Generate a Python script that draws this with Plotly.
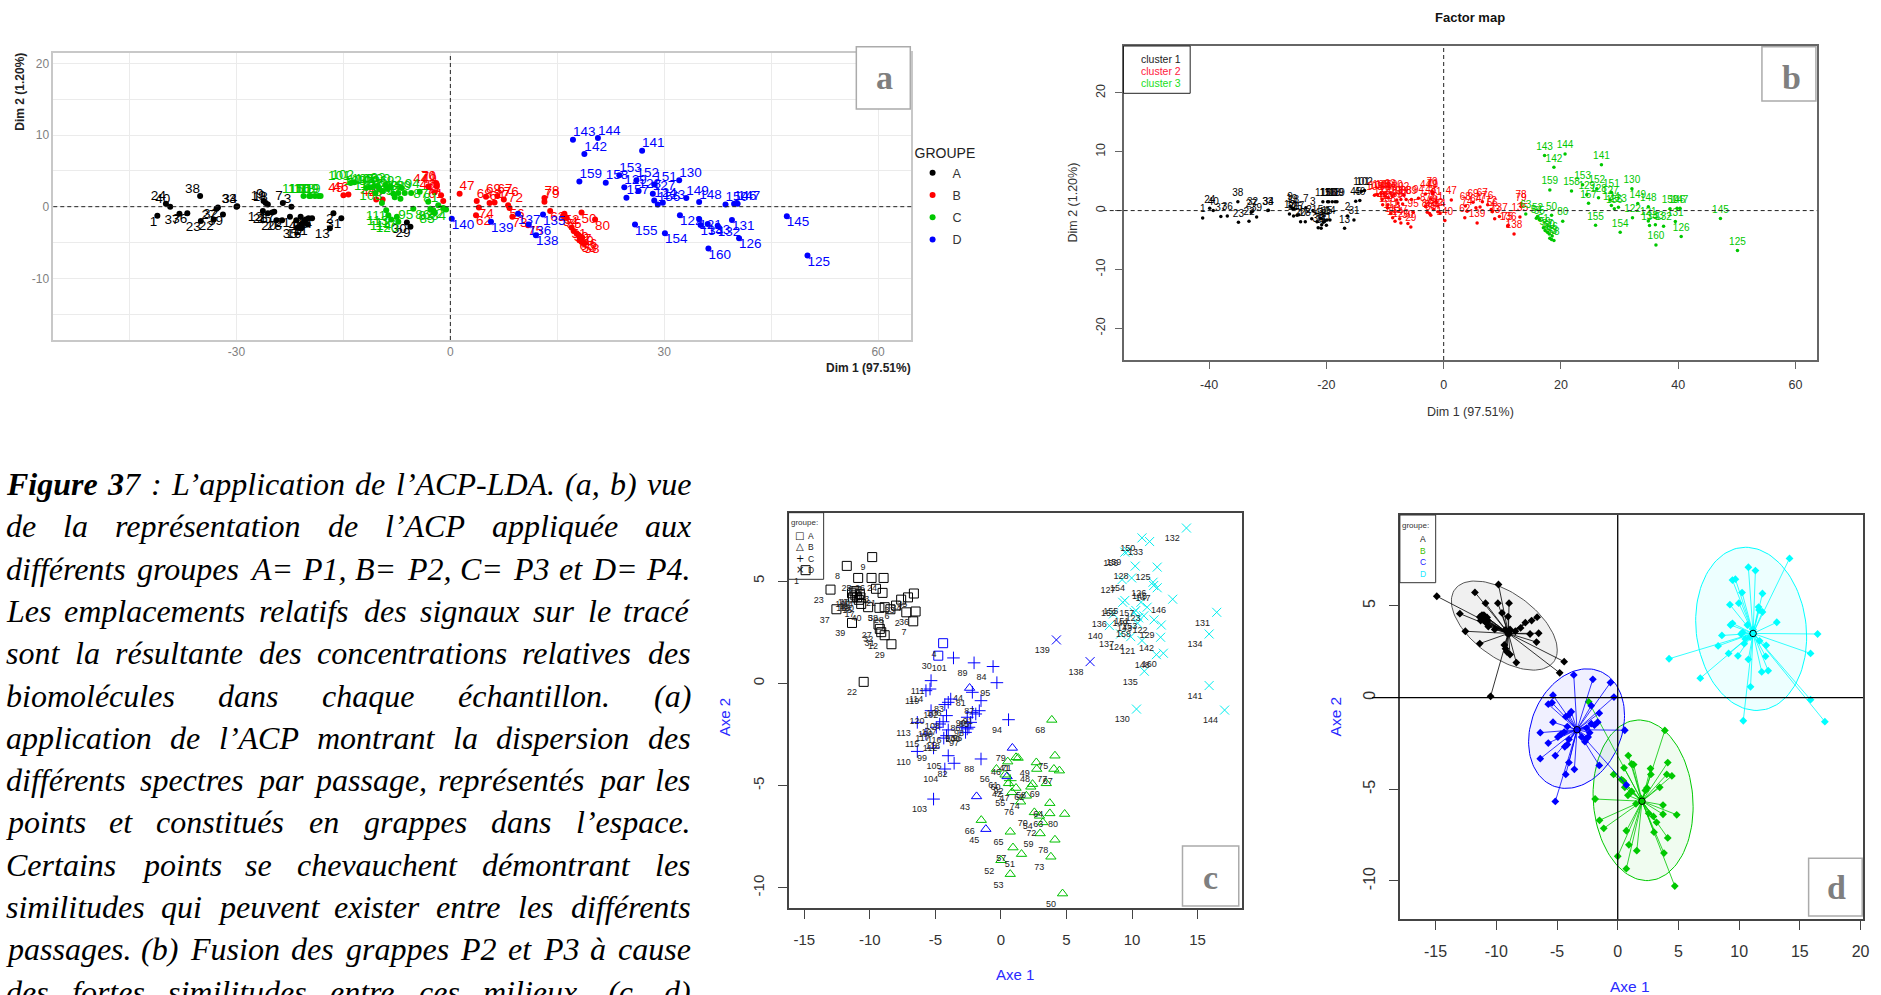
import numpy as np
import plotly.graph_objects as go

W, H = 1881, 995
X_FIT = 1.0033  # horizontal fit of the page to the reference

# ---------- PCA coordinates (panels a, b) ----------
ids_A = list(range(1, 41))
ids_B = list(range(41, 81))
ids_C = list(range(81, 121))
ids_D = list(range(121, 161))

pca_x_A = [-41.1,-16.4,-22.3,-21.6,-21.0,-20.8,-23.5,-20.5,-26.2,-20.3,-20.0,-26.3,-16.9,-19.4,-19.9,-20.9,-24.7,-25.6,-25.9,-24.4,
           -22.5,-33.2,-35.0,-39.9,-25.0,-25.6,-32.8,-23.6,-5.6,-6.1,-15.3,-32.6,-30.0,-29.9,-21.4,-36.9,-38.0,-35.1,-31.9,-39.3]
pca_y_A = [-1.25,-0.9,0.0,-1.9,-1.4,-2.4,0.5,-2.0,0.8,-1.8,-2.5,-0.6,-3.0,-1.6,-1.6,-3.0,-0.7,0.3,0.5,-1.9,
           -1.4,-1.8,-2.0,0.4,-0.8,-0.9,-0.3,-1.9,-2.8,-2.2,-1.6,-0.1,0.0,0.05,-2.9,-0.9,-1.0,1.5,-1.1,0.0]
pca_x_B = [-1.3,-10.4,-9.5,-3.1,-15.0,-14.3,1.3,-2.2,-1.9,18.4,17.0,16.0,18.4,15.8,16.3,8.3,17.7,18.8,17.3,18.0,
           -1.0,3.6,14.0,5.5,18.1,18.5,6.6,3.7,5.0,-2.0,-1.9,8.1,8.7,4.0,10.9,7.5,6.2,13.2,13.2,20.3]
pca_y_B = [1.6,1.0,1.0,2.8,1.6,1.7,1.8,2.0,2.8,-0.8,-2.9,-1.0,-4.9,-1.3,-1.5,-0.2,-3.7,-5.1,-3.4,-4.0,
           0.8,-1.2,-0.6,0.5,-4.7,-4.3,1.5,0.8,1.4,3.3,3.1,0.2,-1.4,-0.1,-2.6,1.0,0.6,1.2,0.7,-1.8]
pca_x_C = [-1.7,-1.0,-2.4,-0.6,-2.2,-2.8,-3.1,-6.4,-5.5,-7.3,-8.0,-6.8,-9.1,-4.3,-5.2,-8.8,-7.0,-7.8,-10.0,-8.4,
           -14.0,-13.5,-11.8,-11.3,-10.7,-10.2,-9.5,-9.6,-18.5,-19.8,-9.0,-10.5,-8.7,-8.3,-20.6,-19.6,-7.5,-19.0,-18.2,-7.3]
pca_y_C = [0.2,-0.2,-0.5,-0.4,-0.8,-0.3,0.7,1.9,1.9,1.9,1.8,2.6,3.0,2.1,-0.3,2.5,1.1,1.3,2.5,2.8,
           3.3,3.4,2.6,2.7,2.9,2.9,2.2,0.5,1.5,1.5,-0.5,1.9,-1.2,-1.8,1.5,1.5,-1.4,1.5,1.5,-2.1]
pca_x_D = [34.9,32.2,29.8,28.6,50.1,40.5,28.4,26.4,24.4,32.1,39.5,37.5,36.1,35.1,13.0,11.0,9.5,12.0,5.7,0.2,
           26.9,18.8,17.2,20.7,47.2,39.8,40.3,34.9,33.1,38.6,28.6,26.1,23.7,30.1,25.9,29.1,24.7,21.8,18.1,36.2]
pca_y_D = [-1.75,-1.2,0.55,0.85,-6.8,-4.4,1.8,2.2,2.7,3.7,-1.85,-2.65,-2.4,-2.55,-1.1,-2.5,-1.0,-4.0,-2.1,-1.7,
           7.8,7.35,9.35,9.6,-1.35,0.4,0.4,0.65,1.2,0.3,3.1,3.7,4.4,-3.7,-2.5,0.3,1.25,3.35,3.5,-5.85]

# k-means membership in panel b (the rest of each group follows its neighbours)
cluster1_ids = ids_A[:28] + ids_A[30:] + [45, 46, 101, 102, 109, 110, 115, 116, 118, 119]
cluster3_ids = [50, 51, 52, 53, 54, 55, 57, 58, 59, 60, 63, 65, 66, 80] + ids_D[:14] + ids_D[20:]

# ---------- LDA coordinates (panels c, d) ----------
lda_x_A = [-14.9,-7.22,-9.53,-4.41,-9.27,-8.0,-6.69,-11.76,-9.82,-11.18,-11.1,-8.87,-10.97,-10.76,-10.84,-11.29,-10.66,-11.02,-11.36,-10.71,
           -9.03,-10.47,-13.0,-8.95,-10.89,-9.87,-9.34,-8.43,-8.35,-4.78,-9.13,-9.24,-7.61,-7.09,-6.64,-6.51,-12.55,-8.87,-11.36,-10.13]
lda_y_A = [5.53,3.47,4.62,1.96,3.69,3.8,3.03,5.74,6.17,4.5,4.3,2.35,4.2,4.37,4.08,4.2,3.88,4.5,4.4,4.2,
           4.42,0.07,4.58,5.15,5.15,5.15,2.87,3.62,1.91,1.35,2.5,2.66,4.09,4.2,4.39,3.51,3.62,3.72,2.95,3.72]
lda_x_B = [1.15,0.58,-1.86,-2.39,-1.15,0.52,1.15,2.73,2.7,4.7,1.57,0.0,0.71,2.94,0.84,-0.34,0.92,2.41,2.99,0.47,
           0.31,2.28,3.73,3.73,0.71,-1.5,4.46,3.88,3.46,2.55,1.31,3.2,3.81,1.94,4.12,1.5,4.04,4.12,0.87,4.86]
lda_y_B = [-3.62,-4.89,-5.53,-0.23,-7.13,-3.83,-5.12,-4.19,-3.87,-10.28,-8.35,-8.65,-9.33,-6.48,-5.33,-4.19,-8.03,-4.93,-7.34,-4.55,
           -4.47,-5.06,-6.36,-5.86,-7.26,-6.69,-4.27,-1.79,-4.89,-6.31,-3.65,-6.8,-8.48,-5.5,-3.54,-5.79,-4.19,-7.65,-3.16,-6.39]
lda_x_C = [-2.18,-3.57,-3.83,-0.6,-1.92,-2.57,-1.52,-1.52,-2.05,-2.18,-1.65,0.71,-2.97,0.58,-0.31,-2.44,-2.7,-2.31,-5.14,-2.57,
           -3.62,-4.28,-5.14,-4.28,-4.02,-4.02,-4.41,-4.15,-4.67,-6.38,-5.33,-4.36,-6.38,-5.41,-5.72,-4.02,-4.93,-4.15,-5.72,-5.33]
lda_y_C = [-0.44,-3.91,-0.77,0.82,-1.5,-1.66,-0.85,-3.7,1.0,-1.42,-1.34,-4.76,-2.15,-1.78,0.03,-2.15,-2.4,-1.91,-3.16,-2.23,
           1.24,-1.04,-5.66,-4.19,-3.54,-0.93,-1.88,-1.58,-1.99,-3.33,0.13,-2.68,-1.91,-0.28,-2.48,-2.28,-2.15,-2.56,-0.36,-1.34]
lda_x_D = [10.76,11.68,11.15,9.9,11.92,11.6,9.24,10.24,12.23,10.34,16.46,14.15,11.34,15.88,10.94,8.58,9.13,6.8,4.23,8.27,
           15.88,12.18,10.5,17.06,11.65,13.1,11.92,11.86,10.16,10.76,10.29,9.29,10.9,9.97,9.45,9.45,10.68,10.42,9.69,12.39]
lda_y_D = [2.09,3.1,3.72,2.28,5.68,4.94,5.07,5.73,2.85,-1.26,3.47,7.59,6.93,2.41,0.59,3.39,2.41,1.06,2.12,2.82,
           -0.11,2.25,3.2,-1.31,4.78,4.11,4.67,1.4,3.47,7.11,3.56,3.96,3.3,5.15,4.05,6.41,3.96,2.94,6.46,1.47]

# points whose colour in panel c differs from the colour of their group
c_blue_ids = [4, 30, 44, 43, 45, 60, 79, 138, 139]
c_green_ids = [92]

centroid_x = [-9.0, 2.0, -3.35, 11.15]
centroid_y = [3.5, -5.65, -1.75, 3.5]
# ellipse: centre x, centre y, half width, half height, correlation
ell_cx = [-9.34, 2.09, -3.39, 10.99]
ell_cy = [3.93, -5.6, -1.69, 3.75]
ell_ax = [4.36, 4.12, 3.95, 4.57]
ell_ay = [2.43, 4.38, 3.26, 4.45]
ell_rho = [-0.55, -0.08, 0.22, -0.1]

group_names = ["A", "B", "C", "D"]
cluster_names = ["cluster 1", "cluster 2", "cluster 3"]

caption_lines = [
    "Figure 37 : L’application de l’ACP-LDA. (a, b) vue",
    "de la représentation de l’ACP appliquée aux",
    "différents groupes A= P1, B= P2, C= P3 et D= P4.",
    "Les emplacements relatifs des signaux sur le tracé",
    "sont la résultante des concentrations relatives des",
    "biomolécules dans chaque échantillon. (a)",
    "application de l’ACP montrant la dispersion des",
    "différents spectres par passage, représentés par les",
    "points et constitués en grappes dans l’espace.",
    "Certains points se chevauchent démontrant les",
    "similitudes qui peuvent exister entre les différents",
    "passages. (b) Fusion des grappes P2 et P3 à cause",
    "des fortes similitudes entre ces milieux. (c, d)",
]

# ---------- helpers ----------
ids_all = [ids_A, ids_B, ids_C, ids_D]
pca_x = [pca_x_A, pca_x_B, pca_x_C, pca_x_D]
pca_y = [pca_y_A, pca_y_B, pca_y_C, pca_y_D]
lda_x = [lda_x_A, lda_x_B, lda_x_C, lda_x_D]
lda_y = [lda_y_A, lda_y_B, lda_y_C, lda_y_D]

SANS = "Liberation Sans"
SERIF = "Liberation Serif"
fig = go.Figure()
ann = []
shp = []

def px(x): return min(1.0, x * X_FIT / W)
def py(y): return 1 - y / H

def text(x, y, s, size=12, color="#222", family=SANS, xanchor="center", yanchor="middle", angle=0):
    ann.append(dict(x=px(x), y=py(y), xref="paper", yref="paper", text=s, showarrow=False,
                    font=dict(size=size, color=color, family=family),
                    xanchor=xanchor, yanchor=yanchor, textangle=angle,
                    borderpad=0, borderwidth=0))

def box(l, t, r, b, line="#000", width=1, fill=None):
    shp.append(dict(type="rect", xref="paper", yref="paper", x0=px(l), x1=px(r), y0=py(b), y1=py(t),
                    line=dict(color=line, width=width), fillcolor=fill if fill else "rgba(0,0,0,0)", layer="above"))

def domain(l, t, r, b):
    return dict(x=[px(l), px(r)], y=[1 - b / H, 1 - t / H])

def letter_box(l, t, r, b, ch, cx, cy):
    box(l, t, r, b, line="#ababab", width=1.5, fill="#ffffff")
    text(cx, cy, "<b>" + ch + "</b>", size=34, color="#7f7f7f", family=SERIF)

# ---------- panel a ----------
col_a = ["#000000", "#ff0000", "#00c800", "#0000ff"]
for k in range(4):
    pos = [("top left" if x < 0 else "top right") if y >= 0 else ("bottom left" if x < 0 else "bottom right")
           for x, y in zip(pca_x[k], pca_y[k])]
    fig.add_trace(go.Scatter(x=pca_x[k], y=pca_y[k], mode="markers", name=group_names[k], legendgroup=group_names[k],
                             marker=dict(color=col_a[k], size=6), xaxis="x", yaxis="y", showlegend=True))
    fig.add_trace(go.Scatter(x=pca_x[k], y=pca_y[k], mode="text", text=[str(i) for i in ids_all[k]],
                             textposition=pos, textfont=dict(size=13.5, color=col_a[k], family=SANS),
                             xaxis="x", yaxis="y", showlegend=False))

# ---------- panel b ----------
col_b = ["#000000", "#ff0000", "#00c800"]
all_ids = sum(ids_all, [])
all_px = sum(pca_x, [])
all_py = sum(pca_y, [])
for c in range(3):
    idx = []
    for i, n in enumerate(all_ids):
        cl = 0 if n in cluster1_ids else (2 if n in cluster3_ids else 1)
        if cl == c:
            idx.append(i)
    fig.add_trace(go.Scatter(x=[all_px[i] for i in idx], y=[all_py[i] for i in idx], mode="markers+text",
                             text=[str(all_ids[i]) for i in idx], textposition="top center",
                             textfont=dict(size=10, color=col_b[c], family=SANS),
                             marker=dict(color=col_b[c], size=3.5), xaxis="x2", yaxis="y2",
                             name=cluster_names[c], showlegend=False))

# ---------- panel c ----------
sym_c = ["square-open", "triangle-up-open", "cross-thin", "x-thin"]
col_c = ["#000000", "#00c000", "#0000ff", "#00eeee"]
for k in range(4):
    cols = []
    for n in ids_all[k]:
        if n in c_blue_ids:
            cols.append("#0000ff")
        elif n in c_green_ids:
            cols.append("#00c000")
        else:
            cols.append(col_c[k])
    fig.add_trace(go.Scatter(x=lda_x[k], y=lda_y[k], mode="markers+text",
                             text=[str(i) for i in ids_all[k]], textposition="bottom left",
                             textfont=dict(size=9, color="#222222", family=SANS),
                             marker=dict(symbol=sym_c[k], size=9, color=cols, line=dict(color=cols, width=1)),
                             xaxis="x3", yaxis="y3", name=group_names[k], showlegend=False))

# ---------- panel d ----------
col_d = ["#000000", "#00c800", "#0000ff", "#00ffff"]
fill_d = ["rgba(0,0,0,0.06)", "rgba(0,200,0,0.06)", "rgba(0,0,255,0.06)", "rgba(0,255,255,0.07)"]
ell_line = ["#555555", "#00c800", "#0000ff", "#00ffff"]
t = np.linspace(0, 2 * np.pi, 121)
for k in range(4):
    ex = ell_cx[k] + ell_ax[k] * np.cos(t)
    ey = ell_cy[k] + ell_ay[k] * (ell_rho[k] * np.cos(t) + np.sqrt(1 - ell_rho[k] ** 2) * np.sin(t))
    fig.add_trace(go.Scatter(x=ex, y=ey, mode="lines", fill="toself", fillcolor=fill_d[k],
                             line=dict(color=ell_line[k], width=1), xaxis="x4", yaxis="y4", showlegend=False))
fig.add_shape(type="line", xref="x4 domain", yref="y4", x0=-0.06, x1=1, y0=0, y1=0, line=dict(color="#000", width=1.3))
fig.add_shape(type="line", xref="x4", yref="y4 domain", x0=0, x1=0, y0=0, y1=1, line=dict(color="#000", width=1.3))
for k in range(4):
    sx, sy = [], []
    for x, y in zip(lda_x[k], lda_y[k]):
        sx += [centroid_x[k], x, None]
        sy += [centroid_y[k], y, None]
    fig.add_trace(go.Scatter(x=sx, y=sy, mode="lines", line=dict(color=col_d[k], width=0.8),
                             xaxis="x4", yaxis="y4", showlegend=False))
    fig.add_trace(go.Scatter(x=lda_x[k], y=lda_y[k], mode="markers",
                             marker=dict(symbol="diamond", size=6, color=col_d[k]),
                             xaxis="x4", yaxis="y4", showlegend=False))
    fig.add_trace(go.Scatter(x=[centroid_x[k]], y=[centroid_y[k]], mode="markers",
                             marker=dict(symbol="circle", size=6.5, color=col_d[k], line=dict(color="#000", width=1)),
                             xaxis="x4", yaxis="y4", showlegend=False))

# ---------- dashed zero lines a, b ----------
for xa, ya, ext in [("x", "y", 0), ("x2", "y2", -0.03)]:
    fig.add_shape(type="line", xref=xa + " domain", yref=ya, x0=ext, x1=1, y0=0, y1=0, line=dict(color="#222", width=1, dash="4px,3px"))
    fig.add_shape(type="line", xref=xa, yref=ya + " domain", x0=0, x1=0, y0=0, y1=1, line=dict(color="#222", width=1, dash="4px,3px"))

# ---------- axes ----------
dom_a = domain(53.3, 53.3, 911.7, 340)
dom_b = domain(1124, 46, 1818, 360)
dom_c = domain(788.9, 512.7, 1242.7, 908.3)
dom_d = domain(1400.5, 515, 1863.8, 919.3)

grid_a = dict(showgrid=True, gridcolor="#ebebeb", gridwidth=1.4, zeroline=False, showline=True, mirror=True,
              linecolor="#c8c8c8", linewidth=1.5, ticks="", tickfont=dict(size=12, color="#7f7f7f", family=SANS))
r_axis = lambda size, ticklen, standoff, col="#444444": dict(
    showgrid=False, zeroline=False, showline=True, mirror=True, linecolor=col, linewidth=1.5,
    ticks="outside", ticklen=ticklen, tickcolor=col, tickwidth=1,
    ticklabelstandoff=standoff, tickfont=dict(size=size, color="#333333", family=SANS))

def ticks(vals):
    return dict(tickvals=vals, ticktext=[str(v) for v in vals])

layout_axes = dict(
    xaxis=dict(domain=dom_a["x"], range=[-55.7, 64.66], anchor="y",
               tickvals=[-45, -30, -15, 0, 15, 30, 45, 60], ticktext=["", "-30", "", "0", "", "30", "", "60"], **grid_a),
    yaxis=dict(domain=dom_a["y"], range=[-18.6, 21.4], anchor="x",
               tickvals=[-15, -10, -5, 0, 5, 10, 15, 20], ticktext=["", "-10", "", "0", "", "10", "", "20"], **grid_a),
    xaxis2=dict(domain=dom_b["x"], range=[-54.6, 63.7], anchor="y2", **ticks([-40, -20, 0, 20, 40, 60]), **r_axis(12.5, 7, 5, "#666666")),
    yaxis2=dict(domain=dom_b["y"], range=[-25.4, 27.98], anchor="x2", **ticks([-20, -10, 0, 10, 20]), tickangle=-90, **r_axis(12.5, 7, 5, "#666666")),
    xaxis3=dict(domain=dom_c["x"], range=[-16.2, 18.4], anchor="y3", **ticks([-15, -10, -5, 0, 5, 10, 15]), **r_axis(15, 9, 8)),
    yaxis3=dict(domain=dom_c["y"], range=[-11.0, 8.34], anchor="x3", **ticks([-10, -5, 0, 5]), tickangle=-90, **r_axis(15, 9, 8)),
    xaxis4=dict(domain=dom_d["x"], range=[-17.94, 20.2], anchor="y4", **ticks([-15, -10, -5, 0, 5, 10, 15, 20]), **r_axis(16, 9, 8)),
    yaxis4=dict(domain=dom_d["y"], range=[-12.09, 9.96], anchor="x4", **ticks([-10, -5, 0, 5]), tickangle=-90, **r_axis(16, 9, 8)),
)

# ---------- panel titles / legends ----------
text(911.7, 367.7, "<b>Dim 1 (97.51%)</b>", size=12, color="#222", xanchor="right")
text(20, 52.7, "<b>Dim 2 (1.20%)</b>", size=12, color="#222", yanchor="top", angle=-90)
text(1471, 17, "<b>Factor map</b>", size=13, color="#111")
text(1471, 412, "Dim 1 (97.51%)", size=12.5, color="#333")
text(1073, 203, "Dim 2 (1.20%)", size=12.5, color="#333", angle=-90)
box(1124, 46, 1190.7, 93.3, line="#222", width=1)
for lab, c, yy in zip(cluster_names, ["#222222", "#ff2040", "#20e020"], [59, 70.7, 82.7]):
    text(1141.7, yy, lab, size=10.5, color=c, xanchor="left")

text(1015, 974, "Axe 1", size=15, color="#2a2aff")
text(724.6, 717, "Axe 2", size=15, color="#2a2aff", angle=-90)
text(1631, 986, "Axe 1", size=15.5, color="#2a2aff")
text(1336, 716, "Axe 2", size=15.5, color="#2a2aff", angle=-90)

box(788.9, 512.7, 824, 579.3, line="#333", width=1)
text(805, 522.3, "groupe:", size=8, color="#333")
for key, lab, yy in zip(["□", "△", "+", "×"], group_names, [535, 546, 558, 569]):
    text(800.2, yy, key, size=10, color="#111", family="DejaVu Sans")
    text(811.6, yy + 1, lab, size=8.5, color="#222")

box(1400.5, 515, 1436.3, 582.7, line="#333", width=1)
text(1416.6, 525, "groupe:", size=8, color="#333")
for lab, c, yy in zip(group_names, ["#111111", "#40c000", "#2020ff", "#20e8ff"], [539, 551, 561.7, 573.7]):
    text(1423.8, yy, lab, size=8.5, color=c)

letter_box(856.7, 46.7, 910.7, 109, "a", 885, 77)
letter_box(1762.7, 46.7, 1816.7, 101, "b", 1792, 77)
letter_box(1183, 846, 1239.3, 906, "c", 1210.7, 877)
letter_box(1809.4, 858.3, 1863, 916, "d", 1837.7, 887)

# ---------- justified caption ----------
AFM = dict(zip("abcdefghijklmnopqrstuvwxyz",
               [500,500,444,500,444,278,500,500,278,278,444,278,722,500,500,500,500,389,389,278,500,444,667,444,444,389]))
AFM.update(dict(A=611,B=611,C=667,D=722,F=611,L=556,P=611))
AFM.update({"é":444,"à":500,"’":333,",":250,".":250,":":333,"(":333,")":333,"-":333,"=":675})
for d_ in "0123456789":
    AFM[d_] = 500
FS = 32
LEFT, RIGHT = 6, 691
for n, line in enumerate(caption_lines):
    yy = 484 + n * 42.3
    words = line.split(" ")
    ws = [sum(AFM.get(ch, 500) for ch in w) * FS / 1000 for w in words]
    if n == 0:
        ws[0] *= 1.05; ws[1] *= 1.03
    gap = (RIGHT - LEFT - sum(ws)) / (len(words) - 1)
    xx = LEFT
    for i, (w, wd) in enumerate(zip(words, ws)):
        s = w
        if n == 0 and i == 0:
            s = "<b><i>Figure</i></b>"
        elif n == 0 and i == 1:
            s = "<b><i>3</i></b><i>7</i>"
        else:
            s = "<i>" + w + "</i>"
        if i == len(words) - 1:
            text(RIGHT, yy, s, size=FS, color="#000", family=SERIF, xanchor="right")
        else:
            text(xx, yy, s, size=FS, color="#000", family=SERIF, xanchor="left")
        xx += wd + gap

fig.update_layout(
    autosize=True, margin=dict(l=0, r=0, t=0, b=0), paper_bgcolor="#ffffff", plot_bgcolor="#ffffff",
    annotations=ann,
    legend=dict(title=dict(text="GROUPE", font=dict(size=14, color="#222", family=SANS)),
                x=916 / W, y=1 - 140 / H, xanchor="left", yanchor="top", bgcolor="rgba(0,0,0,0)",
                font=dict(size=12.5, color="#333", family=SANS), tracegroupgap=3, itemwidth=30),
    **layout_axes,
)
for s in shp:
    fig.add_shape(**s)

fig.write_html("out.html", config=dict(displayModeBar=False),
               post_script="document.documentElement.style.height='100%';document.documentElement.style.margin='0';"
                           "document.body.style.margin='0';document.body.style.height='100%';document.body.style.overflow='hidden';"
                           "var gd=document.getElementById('{plot_id}');gd.parentElement.style.height='100%';gd.style.width='100%';gd.style.height='100%';Plotly.Plots.resize(gd);")
